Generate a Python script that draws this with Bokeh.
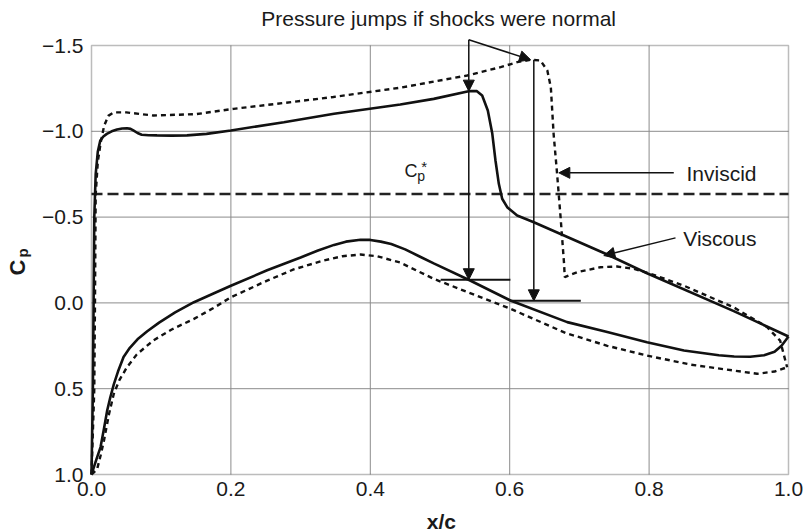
from bokeh.plotting import figure
from bokeh.models import (Range1d, FixedTicker, CustomJSTickFormatter, PrintfTickFormatter,
                          Label, Arrow, NormalHead, BoxAnnotation, LinearAxis)
from bokeh.embed import file_html
from bokeh.resources import INLINE

# ---------------- data ----------------
visc_upper_x = [0.000, 0.002, 0.003, 0.004, 0.006, 0.009, 0.0126, 0.017, 0.022, 0.029, 0.0366,
                0.044, 0.051, 0.056, 0.060, 0.066, 0.072, 0.082, 0.094, 0.115, 0.137, 0.165,
                0.200, 0.276, 0.348, 0.443, 0.491, 0.541, 0.553, 0.5605, 0.5686, 0.575, 0.5796,
                0.5844, 0.5892, 0.5964, 0.6107, 0.6346, 0.740, 0.797, 0.9215, 1.000]
visc_upper_cp = [1.00, 0.50, 0.00, -0.50, -0.75, -0.88, -0.946, -0.970, -0.985, -1.000, -1.010,
                 -1.016, -1.018, -1.014, -1.005, -0.990, -0.980, -0.977, -0.976, -0.975, -0.976,
                 -0.985, -1.005, -1.053, -1.102, -1.156, -1.189, -1.234, -1.234, -1.209, -1.121,
                 -0.987, -0.830, -0.694, -0.607, -0.558, -0.509, -0.470, -0.282, -0.173, 0.048,
                 0.196]

visc_lower_x = [0.000, 0.004, 0.008, 0.013, 0.018, 0.0225, 0.027, 0.032, 0.038, 0.046, 0.055,
                0.066, 0.080, 0.097, 0.120, 0.147, 0.175, 0.200, 0.252, 0.300, 0.325, 0.348,
                0.365, 0.386, 0.400, 0.415, 0.430, 0.450, 0.470, 0.491, 0.541, 0.601, 0.6825,
                0.740, 0.797, 0.850, 0.900, 0.922, 0.945, 0.965, 0.980, 0.990, 1.000]
visc_lower_cp = [1.00, 0.95, 0.90, 0.84, 0.73, 0.627, 0.55, 0.475, 0.40, 0.315, 0.262,
                 0.212, 0.165, 0.115, 0.055, -0.004, -0.055, -0.100, -0.190, -0.265, -0.305,
                 -0.338, -0.357, -0.368, -0.367, -0.357, -0.343, -0.312, -0.272, -0.230, -0.135,
                 -0.014, 0.112, 0.170, 0.229, 0.277, 0.305, 0.312, 0.314, 0.305, 0.285, 0.250,
                 0.196]

invisc_upper_x = [0.000, 0.004, 0.005, 0.006, 0.009, 0.013, 0.018, 0.024, 0.032, 0.050, 0.089,
                  0.150, 0.204, 0.276, 0.347, 0.443, 0.539, 0.587, 0.611, 0.630, 0.644, 0.654,
                  0.659, 0.663, 0.668, 0.673, 0.678, 0.679, 0.685, 0.697, 0.730, 0.754, 0.778,
                  0.802, 0.850, 0.921, 0.969, 0.988, 0.998]
invisc_upper_cp = [1.00, 0.50, 0.00, -0.63, -0.82, -0.93, -1.03, -1.09, -1.11, -1.11, -1.092,
                   -1.100, -1.131, -1.165, -1.200, -1.254, -1.325, -1.374, -1.403, -1.417, -1.413,
                   -1.354, -1.257, -0.985, -0.752, -0.500, -0.228, -0.150, -0.160, -0.179, -0.208,
                   -0.212, -0.199, -0.170, -0.100, 0.025, 0.140, 0.220, 0.375]

invisc_lower_x = [0.000, 0.008, 0.013, 0.018, 0.025, 0.032, 0.040, 0.051, 0.065, 0.089, 0.115,
                  0.147, 0.175, 0.200, 0.252, 0.290, 0.333, 0.360, 0.386, 0.410, 0.443, 0.491,
                  0.601, 0.680, 0.740, 0.797, 0.860, 0.921, 0.955, 0.980, 0.998]
invisc_lower_cp = [1.00, 0.97, 0.89, 0.80, 0.65, 0.53, 0.45, 0.374, 0.30, 0.218, 0.155,
                   0.093, 0.030, -0.033, -0.130, -0.195, -0.247, -0.272, -0.282, -0.272, -0.235,
                   -0.140, 0.034, 0.175, 0.250, 0.307, 0.360, 0.394, 0.413, 0.400, 0.375]

cp_star = -0.635

x_ticks = [0.0, 0.2, 0.4, 0.6, 0.8, 1.0]
y_ticks = [-1.5, -1.0, -0.5, 0.0, 0.5, 1.0]

# annotation geometry (data units)
jump_x_visc = 0.5413
jump_x_invisc = 0.6346
visc_peak_cp = -1.234
invisc_peak = (0.630, -1.417)
visc_jump_cp = -0.135
invisc_jump_cp = -0.012
bar_visc_x = (0.501, 0.601)
bar_invisc_x = (0.601, 0.702)
caption_anchor = (0.5413, -1.533)

FONT = "Liberation Sans"
TXT = "#1a1a1a"
INK = "#111111"
GRID = "#8c8c8c"

X0, X1 = x_ticks[0], x_ticks[-1]
Y_TOP, Y_BOT = y_ticks[0], y_ticks[-1]

# The frame spans the whole canvas; the plotting box [0,1] x [-1.5,1.0] sits inside it
# with the same margins as the reference, so captions outside the box stay visible.
PX_PER_X = 697.0
PX_PER_Y = 429.0 / 2.5
x_range = Range1d(X0 - 91 / PX_PER_X, X1 + (804 - 788) / PX_PER_X)
y_range = Range1d(Y_BOT + (532 - 474) / PX_PER_Y, Y_TOP - 45 / PX_PER_Y)

p = figure(width=804, height=532, output_backend="svg", toolbar_location=None,
           x_range=x_range, y_range=y_range, x_axis_type=None, y_axis_type=None,
           min_border=0, background_fill_color="white", border_fill_color="white")
p.outline_line_color = None
p.xgrid.visible = False
p.ygrid.visible = False

# axes, fixed onto the edges of the plotting box
xaxis = LinearAxis(fixed_location=Y_BOT, ticker=FixedTicker(ticks=x_ticks),
                   formatter=PrintfTickFormatter(format="%.1f"))
yaxis = LinearAxis(fixed_location=X0, ticker=FixedTicker(ticks=y_ticks),
                   formatter=CustomJSTickFormatter(
                       code="return tick.toFixed(1).replace('-', '\u2212');"))
for ax in (xaxis, yaxis):
    ax.axis_line_color = None
    ax.major_tick_line_color = None
    ax.minor_tick_line_color = None
    ax.major_tick_out = 0
    ax.major_tick_in = 0
    ax.major_label_text_font = FONT
    ax.major_label_text_font_size = "21px"
    ax.major_label_text_color = TXT
xaxis.major_label_standoff = 7
yaxis.major_label_standoff = 8
p.add_layout(xaxis, "below")
p.add_layout(yaxis, "left")

# grid lines inside the box
inner_x = x_ticks[1:-1]
inner_y = y_ticks[1:-1]
p.segment(x0=inner_x, y0=[Y_TOP] * len(inner_x), x1=inner_x, y1=[Y_BOT] * len(inner_x),
          line_color=GRID, line_width=1)
p.segment(x0=[X0] * len(inner_y), y0=inner_y, x1=[X1] * len(inner_y), y1=inner_y,
          line_color=GRID, line_width=1)

# Cp* line
p.segment(x0=[X0], y0=[cp_star], x1=[X1], y1=[cp_star], line_color="#222222",
          line_width=2.5, line_dash="11 5")

# curves
p.line(visc_upper_x, visc_upper_cp, line_color=INK, line_width=2.6)
p.line(visc_lower_x, visc_lower_cp, line_color=INK, line_width=2.6)
p.line(invisc_upper_x, invisc_upper_cp, line_color=INK, line_width=2.4, line_dash="5 4")
p.line(invisc_lower_x, invisc_lower_cp, line_color=INK, line_width=2.4, line_dash="5 4")

# plotting box
p.add_layout(BoxAnnotation(left=X0, right=X1, top=Y_TOP, bottom=Y_BOT, fill_color=None,
                           line_color="#222222", line_width=1.5))


def arrow(x0, y0, x1, y1, has_head=True, w=1.5):
    p.add_layout(Arrow(x_start=x0, y_start=y0, x_end=x1, y_end=y1,
                       line_color=INK, line_width=w,
                       end=NormalHead(size=11, fill_color=INK, line_color=INK, line_width=1)
                       if has_head else None))


# pointer from the caption
arrow(caption_anchor[0], caption_anchor[1], invisc_peak[0], invisc_peak[1])
arrow(caption_anchor[0], caption_anchor[1], jump_x_visc, visc_peak_cp)
# pressure jumps
arrow(jump_x_visc, visc_peak_cp, jump_x_visc, visc_jump_cp)
arrow(jump_x_invisc, invisc_peak[1], jump_x_invisc, invisc_jump_cp)
arrow(bar_visc_x[0], visc_jump_cp, bar_visc_x[1], visc_jump_cp, has_head=False, w=2)
arrow(bar_invisc_x[0], invisc_jump_cp, bar_invisc_x[1], invisc_jump_cp, has_head=False, w=2)

# pointer arrows to Inviscid / Viscous
arrow(0.8354, -0.758, 0.6705, -0.758)
arrow(0.8379, -0.379, 0.735, -0.276)


def lab(x, y, text, size, bold=False, align="left", angle=0):
    p.add_layout(Label(x=x, y=y, text=text, text_font=FONT,
                       text_font_size=size, text_font_style="bold" if bold else "normal",
                       text_color=TXT, text_align=align, text_baseline="middle",
                       angle=angle))


lab(0.2435, -1.659, "Pressure jumps if shocks were normal", "21px")
lab(0.8537, -0.7564, "Inviscid", "21px")
lab(0.849, -0.3776, "Viscous", "21px")
# Cp*
lab(0.449, -0.7675, "C", "18px")
lab(0.4673, -0.742, "p", "14px")
lab(0.473, -0.792, "*", "15px")
# axis titles
lab(0.502, 1.2739, "x/c", "21px", bold=True, align="center")
lab(-0.1057, -0.1597, "C", "22px", bold=True, angle=1.5708)
lab(-0.0986, -0.2646, "p", "15px", bold=True, angle=1.5708)

open("out.html", "w").write(file_html(p, INLINE))
